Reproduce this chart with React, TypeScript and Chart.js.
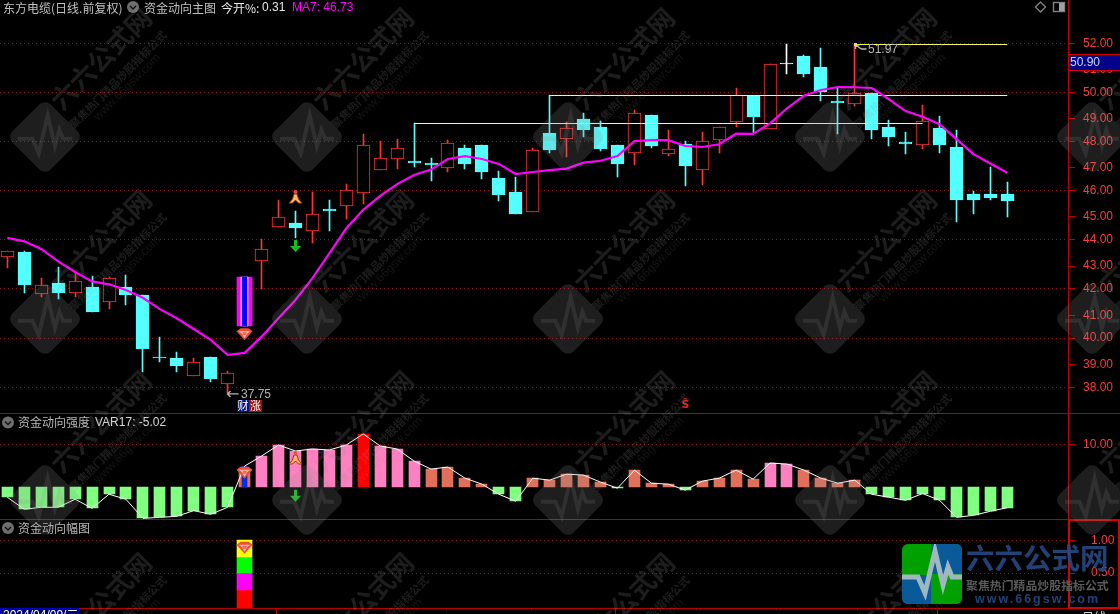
import { useEffect, useRef } from 'react';
import { Chart, registerables } from 'chart.js';

Chart.register(...registerables);

const opens: (number | null)[] = [43.32, 43.51, 41.81, 42.25, 41.85, 42.08, 41.45, 42.08, 41.76, 39.23, 39.19, 38.47, 39.23, 38.15, null, 43.12, 44.54, 44.69, 44.34, 45.26, 45.39, 45.92, 46.86, 47.30, 47.21, 47.13, 46.94, 47.74, 47.86, 46.52, 45.95, 45.15, 48.35, 48.12, 48.92, 48.59, 47.86, 47.55, 49.08, 47.51, 47.90, 46.86, 48.08, 48.78, 49.87, 48.50, 51.20, 51.48, 51.03, 49.65, 49.54, 49.97, 48.59, 47.98, 47.87, 48.55, 47.78, 45.86, 45.86, 45.86];
const closes: (number | null)[] = [43.54, 42.18, 42.15, 41.84, 42.31, 41.07, 42.44, 41.76, 39.56, 39.21, 38.87, 39.02, 38.34, 38.57, null, 43.62, 44.92, 44.50, 45.04, 45.18, 46.02, 47.85, 47.32, 47.73, 47.14, 47.06, 47.93, 47.09, 46.76, 45.83, 45.05, 47.64, 47.66, 48.54, 48.47, 47.70, 47.09, 49.15, 47.82, 47.68, 47.01, 48.01, 48.58, 49.88, 49.00, 51.14, 51.20, 50.75, 50.01, 49.57, 49.96, 48.47, 48.18, 47.90, 48.83, 47.86, 45.62, 45.62, 45.70, 45.58];
const highs: (number | null)[] = [43.54, 43.54, 42.44, 42.90, 42.68, 42.53, 42.49, 42.57, 41.76, 40.05, 39.44, 39.18, 39.23, 38.65, null, 44.04, 45.63, 45.18, 45.95, 45.63, 46.27, 48.30, 48.02, 48.09, 48.74, 47.33, 48.05, 47.86, 47.86, 46.80, 46.56, 47.73, 49.88, 48.80, 49.16, 48.84, 47.86, 49.29, 49.08, 48.47, 48.02, 48.39, 48.58, 50.18, 49.87, 51.14, 51.97, 51.52, 51.81, 50.18, 51.97, 49.97, 48.87, 48.39, 49.49, 49.04, 48.47, 45.98, 46.96, 46.35];
const lows: (number | null)[] = [42.87, 41.85, 41.68, 41.60, 41.68, 41.07, 41.19, 41.35, 38.62, 39.03, 38.62, 38.47, 38.22, 37.75, null, 42.00, 44.54, 44.08, 43.89, 44.38, 44.86, 45.46, 46.86, 46.90, 46.97, 46.41, 46.78, 46.88, 46.48, 45.58, 45.05, 45.15, 47.54, 47.37, 48.19, 47.62, 46.56, 47.05, 47.74, 47.41, 46.19, 46.23, 47.54, 48.61, 48.33, 48.50, 50.76, 50.63, 49.65, 48.31, 49.45, 48.10, 47.82, 47.49, 47.69, 47.53, 44.72, 45.05, 45.62, 44.93];
const ma7: number[] = [44.08, 43.94, 43.63, 43.12, 42.69, 42.31, 42.19, 41.96, 41.64, 41.18, 40.81, 40.37, 39.93, 39.32, 39.40, 40.06, 40.81, 41.55, 42.44, 43.45, 44.47, 45.22, 45.79, 46.27, 46.64, 46.86, 47.29, 47.41, 47.29, 47.09, 46.68, 46.76, 46.84, 46.90, 47.14, 47.22, 47.41, 48.02, 48.06, 48.06, 47.82, 47.78, 47.89, 48.32, 48.31, 48.74, 49.35, 49.87, 50.10, 50.22, 50.21, 50.18, 49.73, 49.24, 49.01, 48.71, 48.10, 47.49, 47.11, 46.73];
const var17: number[] = [-2.54, -5.40, -4.92, -4.92, -3.02, -5.16, -1.83, -3.02, -7.54, -7.30, -7.06, -5.71, -6.59, -4.92, 4.84, 7.22, 9.84, 8.41, 8.89, 8.65, 9.84, 12.46, 9.60, 8.89, 6.03, 4.13, 4.60, 1.98, 0.56, -1.83, -3.49, 1.98, 1.51, 2.94, 2.70, 1.03, -0.40, 3.89, 0.79, 0.56, -0.87, 1.27, 1.98, 3.89, 1.75, 5.56, 5.32, 3.89, 1.98, 0.79, 1.51, -1.83, -2.54, -3.25, -1.67, -3.25, -7.30, -6.83, -5.87, -5.02];
const turnIndex = 14;
const turnBarValue = 3.5;
const signalRange: [number, number] = [40.5, 42.5];
const ampEdges = [-0.03, 0.25, 0.5, 0.75, 1.0];
const ampColors = ['#ff0000', '#ff00ff', '#00ff00', '#ffff00'];
const levelStarts = [24, 32, 50];
const levelEnds = [54, 59, 59];
const levelValues = [48.74, 49.88, 51.97];
const priceTicks = [38, 39, 40, 41, 42, 43, 44, 45, 46, 47, 48, 49, 50, 51, 52];
const priceGrid = [38, 40, 42, 44, 46, 48, 50, 52];
const strengthTicks = [10];
const ampTicks = [0.5, 1];
const timeTicks = [15.91, 20.93, 25.94, 30.9, 35.91, 40.69, 45.41, 50.19, 54.91];
const timeLabels = ['5', '', '', '', '6', '', '', '', '7'];

const CJK = '"Noto Sans CJK SC"';
const LAT = '"Liberation Sans"';
const WM = 'rgba(143,143,143,0.21)';
const FRAME = '#b80000';

const fitY = (s: any) => {
  s.width = 52;
  s.paddingTop = 0;
  s.paddingBottom = 0;
  s.paddingLeft = 0;
  s.paddingRight = 0;
};

// odd price ticks sit a little under their linear position in the reference
const yAxis = (stack: number, min: number, max: number, ticks: number[], pad: number, oddShift = 0) => ({
  type: 'linear',
  position: 'right',
  stack: 'panels',
  stackWeight: stack,
  min,
  max,
  afterBuildTicks: (s: any) => {
    s.ticks = ticks.map((v) => ({ value: oddShift && v % 2 !== 0 ? v - oddShift : v }));
  },
  afterFit: fitY,
  grid: {
    color: 'transparent',
    tickColor: '#c00000',
    tickLength: 7,
  },
  border: { color: FRAME, width: 1 },
  ticks: {
    color: '#ff3a3a',
    padding: pad,
    autoSkip: false,
    font: { family: 'Liberation Sans', size: 12 },
    callback: (_v: any, i: number) => ticks[i].toFixed(2),
  },
});

const crispBars = {
  id: 'crispBars',
  beforeDatasetsDraw(chart: any) {
    const { ctx, scales, chartArea } = chart;
    ctx.save();
    ctx.strokeStyle = '#8e1010';
    ctx.lineWidth = 1;
    ctx.setLineDash([1, 3]);
    ctx.beginPath();
    const rows = [
      ...priceGrid.map((v) => scales.price.getPixelForValue(v)),
      ...strengthTicks.map((v) => scales.strength.getPixelForValue(v)),
      ...ampTicks.map((v) => scales.amp.getPixelForValue(v)),
    ];
    rows.forEach((y: number) => {
      const py = Math.floor(y) + 0.5;
      ctx.moveTo(chartArea.left, py);
      ctx.lineTo(chartArea.right, py);
    });
    ctx.stroke();
    ctx.restore();

    chart.getSortedVisibleDatasetMetas().forEach((meta: any) => {
      if (meta.type === 'bar') {
        meta.data.forEach((el: any) => {
          el.x = Math.floor(el.x) + 0.5;
          const top = Math.round(el.y);
          let base = Math.round(el.base);
          if (base === top) base = top + 1;
          el.y = top;
          el.base = base;
        });
      } else if (meta.controller.getDataset().crisp) {
        meta.data.forEach((el: any) => {
          el.y = Math.floor(el.y) + 0.5;
        });
      }
    });
  },
};

function circleChevron(ctx: any, x: number, y: number) {
  ctx.fillStyle = '#6e6e6e';
  ctx.beginPath();
  ctx.arc(x, y, 6, 0, Math.PI * 2);
  ctx.fill();
  ctx.strokeStyle = '#111';
  ctx.lineWidth = 1.4;
  ctx.beginPath();
  ctx.moveTo(x - 3, y - 1);
  ctx.lineTo(x, y + 2);
  ctx.lineTo(x + 3, y - 1);
  ctx.stroke();
}

function text(ctx: any, s: string, x: number, y: number, color: string, font: string, align = 'left') {
  ctx.fillStyle = color;
  ctx.font = font;
  ctx.textAlign = align;
  ctx.textBaseline = 'middle';
  ctx.fillText(s, x, y);
}

function gem(ctx: any, x: number, y: number) {
  ctx.fillStyle = '#e8503c';
  ctx.beginPath();
  ctx.moveTo(x - 8, y - 3);
  ctx.lineTo(x - 4, y - 6);
  ctx.lineTo(x + 4, y - 6);
  ctx.lineTo(x + 8, y - 3);
  ctx.lineTo(x, y + 6);
  ctx.closePath();
  ctx.fill();
  ctx.fillStyle = '#ffb8a8';
  ctx.beginPath();
  ctx.moveTo(x - 6, y - 3);
  ctx.lineTo(x + 6, y - 3);
  ctx.lineTo(x + 3, y - 1);
  ctx.lineTo(x, y + 4);
  ctx.lineTo(x - 3, y - 1);
  ctx.closePath();
  ctx.fill();
  ctx.fillStyle = '#f06a58';
  ctx.fillRect(x - 2, y - 2, 4, 3);
}

function dancer(ctx: any, x: number, y: number) {
  ctx.beginPath();
  ctx.moveTo(x - 1.5, y - 3);
  ctx.lineTo(x + 1.5, y - 3);
  ctx.lineTo(x + 3, y + 2);
  ctx.lineTo(x + 6.5, y + 6);
  ctx.lineTo(x + 3, y + 6);
  ctx.lineTo(x, y + 3);
  ctx.lineTo(x - 3, y + 6);
  ctx.lineTo(x - 6.5, y + 6);
  ctx.lineTo(x - 3, y + 2);
  ctx.closePath();
  ctx.fillStyle = '#ffb865';
  ctx.fill();
  ctx.strokeStyle = '#a83010';
  ctx.lineWidth = 1;
  ctx.stroke();
  ctx.fillStyle = '#e8503c';
  ctx.beginPath();
  ctx.arc(x, y - 5, 2, 0, Math.PI * 2);
  ctx.fill();
}

function downArrow(ctx: any, x: number, y: number) {
  ctx.fillStyle = '#10c020';
  ctx.fillRect(x - 1.5, y - 6, 3, 8);
  ctx.beginPath();
  ctx.moveTo(x - 5.5, y);
  ctx.lineTo(x + 5.5, y);
  ctx.lineTo(x, y + 6);
  ctx.closePath();
  ctx.fill();
}

function pulsePath(ctx: any, s: number, ox: number, oy: number) {
  ctx.beginPath();
  ctx.moveTo(ox - 30 * s, oy + 2 * s);
  ctx.lineTo(ox - 14 * s, oy + 2 * s);
  ctx.lineTo(ox - 7 * s, oy + 18 * s);
  ctx.lineTo(ox + 3 * s, oy - 24 * s);
  ctx.lineTo(ox + 11 * s, oy + 10 * s);
  ctx.lineTo(ox + 16 * s, oy - 8 * s);
  ctx.lineTo(ox + 20 * s, oy + 2 * s);
  ctx.lineTo(ox + 30 * s, oy + 2 * s);
}

function roundedRect(ctx: any, x: number, y: number, w: number, h: number, r: number) {
  ctx.beginPath();
  ctx.roundRect(x, y, w, h, r);
}

function watermark(ctx: any, cx: number, cy: number) {
  ctx.save();
  ctx.translate(cx, cy);
  ctx.save();
  ctx.rotate(Math.PI / 4);
  ctx.fillStyle = WM;
  roundedRect(ctx, -27, -27, 54, 54, 8);
  ctx.fill();
  ctx.restore();
  ctx.strokeStyle = 'rgba(143,143,143,0.16)';
  ctx.lineWidth = 4;
  pulsePath(ctx, 0.9, 0, 0);
  ctx.stroke();
  ctx.rotate(-Math.PI / 4);
  text(ctx, '六六公式网', 30, -16, 'rgba(143,143,143,0.2)', `bold 26px ${CJK}`);
  text(ctx, '聚焦热门精品炒股指标公式', 26, 11, 'rgba(143,143,143,0.2)', `bold 11px ${CJK}`);
  text(ctx, 'www.66gsw.com', 49, 23, 'rgba(143,143,143,0.14)', `12px ${LAT}`);
  ctx.restore();
}

function logo(ctx: any) {
  ctx.save();
  roundedRect(ctx, 902, 544, 60, 60, 6);
  ctx.clip();
  ctx.fillStyle = '#00a000';
  ctx.fillRect(902, 544, 60, 60);
  ctx.fillStyle = '#0a5a9a';
  ctx.fillRect(931, 544, 31, 30);
  ctx.fillRect(902, 575, 29, 29);
  ctx.strokeStyle = '#9fb8c0';
  ctx.lineWidth = 5;
  ctx.lineJoin = 'miter';
  pulsePath(ctx, 1, 932, 575);
  ctx.stroke();
  ctx.restore();
  ctx.globalAlpha = 0.88;
  text(ctx, '六六公式网', 966, 558, '#274a86', `bold 28.5px ${CJK}`);
  text(ctx, '聚焦热门精品炒股指标公式', 966, 585, '#666666', `bold 11.9px ${CJK}`);
  ctx.letterSpacing = '2px';
  text(ctx, 'www.66gsw.com', 975, 600, '#274a86', `bold 12.5px ${LAT}`);
  ctx.letterSpacing = '0px';
  ctx.globalAlpha = 1;
}

const decorations = {
  id: 'decorations',
  beforeDraw(chart: any) {
    const { ctx, width, height } = chart;
    ctx.save();
    ctx.fillStyle = '#000';
    ctx.fillRect(0, 0, width, height);
    ctx.restore();
  },
  afterDraw(chart: any) {
    const { ctx, scales } = chart;
    const px = (i: number) => Math.floor(scales.x.getPixelForValue(i)) + 0.5;
    const py = (v: number) => scales.price.getPixelForValue(v);
    const sy = (v: number) => scales.strength.getPixelForValue(v);
    const ay = (v: number) => scales.amp.getPixelForValue(v);
    ctx.save();

    ctx.strokeStyle = FRAME;
    ctx.lineWidth = 1;
    ctx.beginPath();
    [413.5, 519.5, 608.5].forEach((y) => {
      ctx.moveTo(0, y);
      ctx.lineTo(1120, y);
    });
    ctx.moveTo(1068.5, 0);
    ctx.lineTo(1068.5, 608);
    timeTicks.forEach((t, i) => {
      if (timeLabels[i]) {
        const x = Math.floor(scales.x.getPixelForValue(t)) + 0.5;
        ctx.moveTo(x, 608);
        ctx.lineTo(x, 614);
      }
    });
    ctx.stroke();
    ctx.strokeStyle = '#d80000';
    ctx.lineWidth = 2;
    ctx.strokeRect(1069, 520, 50, 88);

    // price box
    ctx.fillStyle = '#000088';
    ctx.fillRect(1069, 55, 51, 15);
    ctx.strokeStyle = '#d00000';
    ctx.lineWidth = 1;
    ctx.strokeRect(1068.5, 54.5, 52, 16);
    text(ctx, '50.90', 1070, 62.5, '#d0d8ff', `12px ${LAT}`);

    // header texts
    text(ctx, '东方电缆(日线.前复权)', 3, 8, '#c0c0c0', `12px ${CJK}`);
    circleChevron(ctx, 133, 7);
    text(ctx, '资金动向主图', 144, 8, '#c0c0c0', `12px ${CJK}`);
    text(ctx, '今开%:', 221, 8, '#e8e8e8', `12px ${CJK}`);
    text(ctx, '0.31', 262, 8, '#e8e8e8', `12px ${LAT}`);
    text(ctx, 'MA7: 46.73', 292, 8, '#ff00ff', `12px ${LAT}`);
    circleChevron(ctx, 8, 422.5);
    text(ctx, '资金动向强度', 18, 422.5, '#b8b8b8', `12px ${CJK}`);
    text(ctx, 'VAR17: -5.02', 95, 422.5, '#d8d8d8', `12px ${LAT}`);
    circleChevron(ctx, 8, 528);
    text(ctx, '资金动向幅图', 18, 528, '#b8b8b8', `12px ${CJK}`);

    // window buttons
    ctx.strokeStyle = '#808080';
    ctx.beginPath();
    ctx.moveTo(1040.5, 2);
    ctx.lineTo(1045.5, 7);
    ctx.lineTo(1040.5, 12);
    ctx.lineTo(1035.5, 7);
    ctx.closePath();
    ctx.stroke();
    ctx.strokeRect(1053.5, 2.5, 11, 9);
    ctx.fillStyle = '#a0a0a0';
    ctx.fillRect(1059, 3, 5, 8);

    // high / low annotations
    const lowY = py(37.75);
    ctx.strokeStyle = '#b8b8b8';
    ctx.beginPath();
    ctx.moveTo(px(13), lowY + 0.5);
    ctx.lineTo(px(13) + 11, lowY + 0.5);
    ctx.moveTo(px(13) + 3, lowY - 2.5);
    ctx.lineTo(px(13), lowY + 0.5);
    ctx.lineTo(px(13) + 3, lowY + 3.5);
    ctx.stroke();
    text(ctx, '37.75', 241, lowY + 1, '#b0b0b0', `12px ${LAT}`);
    const hiY = py(51.97);
    ctx.beginPath();
    ctx.moveTo(px(50) + 1, hiY + 1);
    ctx.lineTo(px(50) + 1, hiY + 5);
    ctx.moveTo(px(50) + 1, hiY + 1);
    ctx.lineTo(px(50) + 5, hiY + 1);
    ctx.moveTo(px(50) + 1, hiY + 1);
    ctx.lineTo(px(50) + 7, hiY + 5);
    ctx.lineTo(px(50) + 12, hiY + 5);
    ctx.stroke();
    text(ctx, '51.97', 868, hiY + 6, '#b8b8b8', `12px ${LAT}`);
    ctx.fillStyle = '#f0e050';
    ctx.fillRect(px(50) - 0.5, hiY - 1, 3, 3);

    // signal icons
    gem(ctx, px(turnIndex), py(40.16));
    gem(ctx, px(turnIndex), sy(3.25));
    gem(ctx, px(turnIndex), ay(0.885));
    dancer(ctx, px(17), py(45.74));
    dancer(ctx, px(17), sy(6.75));
    downArrow(ctx, px(17), py(43.75));
    downArrow(ctx, px(17), sy(-2.2));
    ctx.fillStyle = '#00148c';
    ctx.fillRect(237, 400, 12, 12);
    ctx.fillStyle = '#a01010';
    ctx.fillRect(249, 400, 13, 12);
    text(ctx, '财', 243, 406, '#ffffff', `11px ${CJK}`, 'center');
    text(ctx, '涨', 255.5, 406, '#ffffff', `11px ${CJK}`, 'center');
    text(ctx, 'Ŝ', px(40), 405, '#f02020', `bold 11px "DejaVu Sans"`, 'center');

    // bottom strip
    ctx.fillStyle = '#000070';
    ctx.fillRect(1, 609, 77, 5);
    ctx.strokeStyle = '#0000c0';
    ctx.strokeRect(0.5, 608.5, 78, 8);
    text(ctx, '2024/04/09/二', 3, 616, '#ffffff', `12px ${LAT}, ${CJK}`);
    text(ctx, '日线', 1082, 617, '#d0d0d0', `12px ${CJK}`);

    // watermark tiles
    [45, 307, 568, 830, 1092].forEach((x) => {
      [137, 319, 500, 682].forEach((y) => watermark(ctx, x, y));
    });

    logo(ctx);
    ctx.restore();
  },
};

export default function App() {
  const ref = useRef<HTMLCanvasElement | null>(null);

  useEffect(() => {
    if (!ref.current) return;
    const idx = opens.map((_, i) => i).filter((i) => opens[i] !== null);
    const tone = (i: number) =>
      (closes[i] as number) === (opens[i] as number) ? '#ffffff' : (closes[i] as number) > (opens[i] as number) ? '#ff3232' : '#54ffff';
    const wickData = idx.map((i) => ({ x: i, y: [lows[i], highs[i]], c: tone(i) }));
    const bodyData = idx.map((i) => ({ x: i, y: [opens[i], closes[i]], c: tone(i) }));
    const barOpts = { type: 'bar', grouped: false, borderSkipped: false };
    const levels = levelValues.map((v, k) => ({
      type: 'line',
      label: `level${k}`,
      crisp: true,
      yAxisID: 'price',
      data: [
        { x: levelStarts[k], y: v },
        { x: levelEnds[k], y: v },
      ],
      borderColor: '#ffff55',
      borderWidth: 1,
      pointRadius: 0,
      order: 3,
    }));

    const chart = new Chart(ref.current, {
      type: 'line',
      data: {
        datasets: [
          {
            ...barOpts,
            label: 'wick',
            yAxisID: 'price',
            data: wickData,
            barThickness: 1,
            backgroundColor: (c: any) => c.raw?.c,
            borderWidth: 0,
            order: 9,
          },
          {
            ...barOpts,
            label: 'body',
            yAxisID: 'price',
            data: bodyData,
            barThickness: 13,
            backgroundColor: (c: any) => (c.raw?.c === '#ff3232' ? '#000000' : c.raw?.c),
            borderColor: (c: any) => c.raw?.c,
            borderWidth: 1,
            order: 8,
          },
          ...levels,
          {
            ...barOpts,
            label: 'signalOuter',
            yAxisID: 'price',
            data: [{ x: turnIndex, y: signalRange }],
            barThickness: 15,
            backgroundColor: '#ff00ff',
            order: 7,
          },
          {
            ...barOpts,
            label: 'signalMid',
            yAxisID: 'price',
            data: [{ x: turnIndex, y: signalRange }],
            barThickness: 7,
            backgroundColor: '#ffffff',
            order: 6,
          },
          {
            ...barOpts,
            label: 'signalInner',
            yAxisID: 'price',
            data: [{ x: turnIndex, y: signalRange }],
            barThickness: 5,
            backgroundColor: '#0000ff',
            order: 5,
          },
          {
            type: 'line',
            label: 'MA7',
            yAxisID: 'price',
            data: ma7.map((y, x) => ({ x, y })),
            borderColor: '#ff00ff',
            borderWidth: 2.2,
            pointRadius: 0,
            tension: 0,
            order: 1,
          },
          {
            ...barOpts,
            label: 'strengthBars',
            yAxisID: 'strength',
            data: var17.map((y, x) => ({ x, y: x === turnIndex ? turnBarValue : y })),
            barThickness: 11,
            backgroundColor: (c: any) => {
              const v = c.raw?.y;
              if (v < 0) return '#80ff80';
              if (v > 12) return '#ff0000';
              return v > 5 ? '#ff80c0' : '#e0705a';
            },
            order: 8,
          },
          {
            ...barOpts,
            label: 'strengthTurn',
            yAxisID: 'strength',
            data: [{ x: turnIndex, y: var17[turnIndex] }],
            barThickness: 5,
            backgroundColor: '#0030e0',
            order: 7,
          },
          {
            type: 'line',
            label: 'VAR17',
            yAxisID: 'strength',
            data: var17.map((y, x) => ({ x, y })),
            borderColor: '#ffffff',
            borderWidth: 1,
            pointRadius: 0,
            tension: 0,
            order: 2,
          },
          {
            ...barOpts,
            label: 'amplitude',
            yAxisID: 'amp',
            data: ampColors.map((_, k) => ({ x: turnIndex, y: [ampEdges[k], ampEdges[k + 1]] })),
            barThickness: 15,
            backgroundColor: ampColors,
            order: 8,
          },
        ] as any,
      },
      options: {
        animation: false,
        responsive: false,
        devicePixelRatio: 1,
        events: [],
        layout: { padding: 0 },
        plugins: { legend: { display: false }, title: { display: false }, tooltip: { enabled: false } },
        scales: {
          x: {
            type: 'linear',
            position: 'bottom',
            offset: false,
            min: -0.431,
            max: 62.58,
            afterBuildTicks: (s: any) => {
              s.ticks = timeTicks.map((value) => ({ value }));
            },
            afterFit: (s: any) => {
              s.height = 6;
              s.paddingLeft = 0;
              s.paddingRight = 0;
              s.paddingTop = 0;
              s.paddingBottom = 0;
            },
            grid: { offset: false, drawOnChartArea: false, color: '#b80000', tickColor: '#b80000', tickLength: 2 },
            border: { display: false },
            ticks: {
              autoSkip: false,
              maxRotation: 0,
              minRotation: 0,
              align: 'start',
              padding: 2,
              labelOffset: 2,
              color: '#ff3a3a',
              font: { family: 'Liberation Sans', size: 12 },
              callback: (_v: any, i: number) => timeLabels[i],
            },
          },
          price: yAxis(413.3, 36.94, 53.762, priceTicks, 8, 0.07),
          strength: yAxis(106, -7.77, 17.35, strengthTicks, 8),
          amp: yAxis(88.7, -0.03, 1.318, ampTicks, 16),
        } as any,
      },
      plugins: [crispBars, decorations],
    } as any);
    return () => chart.destroy();
  }, []);

  return (
    <div style={{ position: 'fixed', left: 0, top: 0, width: 1120, height: 614, background: '#000', overflow: 'hidden' }}>
      <canvas ref={ref} width={1120} height={614} style={{ display: 'block', width: 1120, height: 614 }} />
    </div>
  );
}
